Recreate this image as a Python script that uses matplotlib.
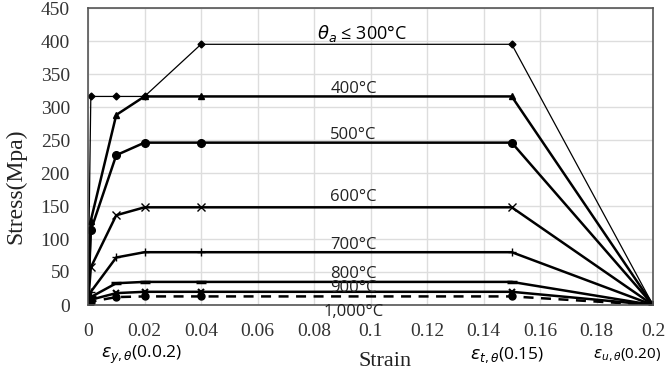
import matplotlib
matplotlib.use("Agg")
import matplotlib.pyplot as plt

# strain points shared by every curve
strain = [0, 0.001, 0.01, 0.02, 0.04, 0.15, 0.2]

# stress (MPa) for each temperature
s300 = [0, 316, 316, 316, 395, 395, 0]
s400 = [0, 128, 288, 316, 316, 316, 0]
s500 = [0, 113, 227, 246, 246, 246, 0]
s600 = [0, 57, 136, 148, 148, 148, 0]
s700 = [0, 20, 72, 80, 80, 80, 0]
s800 = [0, 12, 33, 35, 35, 35, 0]
s900 = [0, 8, 18, 20, 20, 20, 0]
s1000 = [0, 5, 12, 13, 13, 13, 0]

labels = ["400°C", "500°C", "600°C", "700°C", "800°C", "900°C", "1,000°C"]
label_y = [328, 257, 163, 91, 47, 26, -11]

serif = "Liberation Serif"
sans = "Open Sans"

fig = plt.figure(figsize=(6.67, 3.72), dpi=100)
ax = fig.add_axes([88 / 667, 1 - 305 / 372, 565 / 667, 297 / 372])

ax.plot(strain, s300, color="black", lw=0.9, marker="D", ms=3.5)
ax.plot(strain, s400, color="black", lw=1.8, marker="^", ms=4.5)
ax.plot(strain, s500, color="black", lw=1.8, marker="o", ms=5.5)
ax.plot(strain, s600, color="black", lw=1.8, marker="x", ms=6, mew=1)
ax.plot(strain, s700, color="black", lw=1.8, marker="+", ms=6, mew=1)
ax.plot(strain, s800, color="black", lw=1.8, marker="_", ms=7, mew=2.5)
ax.plot(strain, s900, color="black", lw=1.8, marker="x", ms=5, mew=1.5)
ax.plot(strain, s1000, color="black", lw=1.8, ls=(0, (4, 3)), marker="o", ms=5)
ax.plot([0.2], [0], marker="s", color="black", ms=5)

ax.set_xlim(0, 0.2)
ax.set_ylim(0, 450)
ax.set_xticks([0, 0.02, 0.04, 0.06, 0.08, 0.1, 0.12, 0.14, 0.16, 0.18, 0.2])
ax.set_xticklabels(["0", "0.02", "0.04", "0.06", "0.08", "0.1", "0.12", "0.14", "0.16", "0.18", "0.2"])
ax.set_yticks(range(0, 451, 50))
ax.tick_params(length=0, labelsize=14, pad=13)
for t in ax.get_xticklabels() + ax.get_yticklabels():
    t.set_fontfamily(serif)
    t.set_color("#333333")
ax.grid(True, color="#dddddd", lw=1)
ax.set_axisbelow(True)
for sp in ax.spines.values():
    sp.set_color("#555555")
    sp.set_linewidth(1.2)

fig.text(16 / 667, 1 - 186 / 372, "Stress(Mpa)", rotation=90, ha="center", va="center",
         fontfamily=serif, fontsize=17, color="#222222")
fig.text(385 / 667, 1 - 362 / 372, "Strain", ha="center", va="center",
         fontfamily=serif, fontsize=16, color="#222222")

ax.text(0.097, 412, r"$\theta_a$ ≤ 300°C", ha="center", va="center", fontsize=13, fontfamily=sans)
for lab, y in zip(labels, label_y):
    ax.text(0.094, y, lab, ha="center", va="center", fontsize=12, fontfamily=sans,
            color="#222222", clip_on=False)

fig.text(142 / 667, 1 - 355 / 372, r"$\varepsilon_{y,\theta}$(0.0.2)", ha="center", va="center",
         fontsize=12.5, fontfamily=sans)
fig.text(507 / 667, 1 - 355 / 372, r"$\varepsilon_{t,\theta}$(0.15)", ha="center", va="center",
         fontsize=12.5, fontfamily=sans)
fig.text(627 / 667, 1 - 355 / 372, r"$\varepsilon_{u,\theta}$(0.20)", ha="center", va="center",
         fontsize=11, fontfamily=sans)

fig.savefig("out.png", dpi=100)
